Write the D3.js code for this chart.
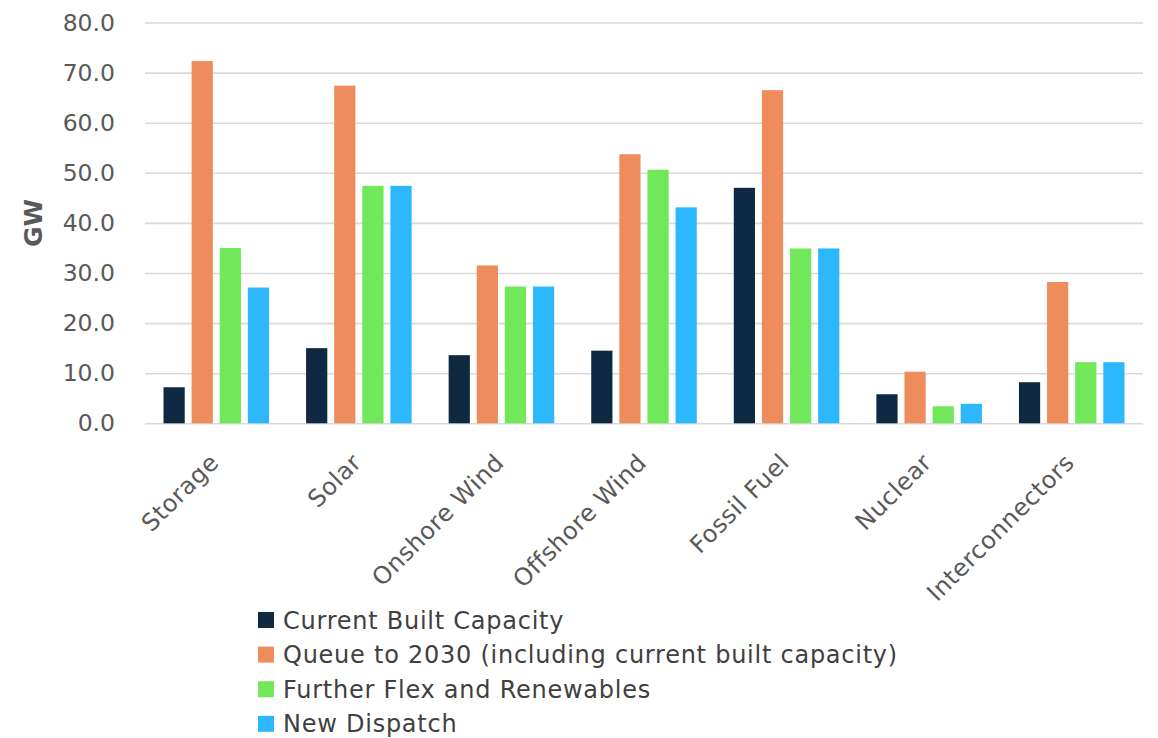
<!doctype html>
<html>
<head>
    <script src="https://d3js.org/d3.v7.min.js"></script>
    <style>
        body { margin: 0; background: #fff; }
        text { font-family: "DejaVu Sans", sans-serif; }
    </style>
</head>
<body>
    <script>
        let categories = ["Storage", "Solar", "Onshore Wind", "Offshore Wind", "Fossil Fuel", "Nuclear", "Interconnectors"];
        let seriesNames = ["Current Built Capacity", "Queue to 2030 (including current built capacity)", "Further Flex and Renewables", "New Dispatch"];
        let currentBuilt = [7.2, 15.0, 13.6, 14.5, 47.0, 5.8, 8.2];
        let queue2030 = [72.3, 67.4, 31.5, 53.7, 66.5, 10.3, 28.2];
        let furtherFlex = [35.0, 47.4, 27.3, 50.6, 34.9, 3.4, 12.2];
        let newDispatch = [27.1, 47.4, 27.3, 43.1, 34.9, 3.9, 12.2];
        let yTicks = [0, 10, 20, 30, 40, 50, 60, 70, 80];
        let colors = ["#0f2942", "#ee8c5c", "#70e85a", "#2db8fe"];

        let allSeries = [currentBuilt, queue2030, furtherFlex, newDispatch];

        let width = 1158, height = 738;
        let plotLeft = 145, plotRight = 1143, plotTop = 22.5, plotBottom = 423.3;

        let svg = d3.select("body").append("svg")
                    .attr("width", width).attr("height", height);

        let x = d3.scaleBand().domain(categories).range([plotLeft, plotRight]).padding(0);
        let x1 = d3.scaleBand().domain(d3.range(4)).range([18.5, x.bandwidth() - 18.5]).paddingInner(0.245);
        let y = d3.scaleLinear().domain([0, 80]).range([plotBottom, plotTop]);

        // gridlines + y labels
        let yAxis = svg.append("g").attr("transform", "translate(" + plotLeft + ",0)")
            .call(d3.axisLeft(y).tickValues(yTicks).tickFormat(d3.format(".1f")).tickSize(-(plotRight - plotLeft)).tickPadding(30));
        yAxis.select(".domain").remove();
        yAxis.selectAll(".tick line").attr("stroke", "#d9d9d9").attr("stroke-width", 1.6);
        yAxis.selectAll(".tick text").attr("fill", "#595959").style("font-size", "23.5px");

        svg.append("text")
            .attr("transform", "translate(42," + ((plotTop + plotBottom) / 2) + ") rotate(-90)")
            .attr("text-anchor", "middle")
            .attr("fill", "#595959")
            .style("font-size", "25px").style("font-weight", "bold")
            .text("GW");

        // bars
        let groups = svg.selectAll("g.grp").data(categories).enter().append("g")
            .attr("class", "grp")
            .attr("transform", function(d) { return "translate(" + x(d) + ",0)"; });
        groups.selectAll("rect").data(function(d, i) { return allSeries.map(function(s, k) { return {k: k, v: s[i]}; }); })
            .enter().append("rect")
            .attr("x", function(d) { return x1(d.k); })
            .attr("width", x1.bandwidth())
            .attr("y", function(d) { return y(d.v); })
            .attr("height", function(d) { return y(0) - y(d.v); })
            .attr("fill", function(d) { return colors[d.k]; });

        // category labels
        svg.selectAll("text.cat").data(categories).enter().append("text")
            .attr("class", "cat")
            .attr("transform", function(d) { return "translate(" + (x(d) + x.bandwidth() / 2 + 4) + ",464) rotate(-45)"; })
            .attr("text-anchor", "end")
            .attr("fill", "#595959")
            .style("font-size", "24px")
            .style("letter-spacing", "0.5px")
            .text(function(d) { return d; });

        // legend
        let legend = svg.selectAll("g.leg").data(seriesNames).enter().append("g")
            .attr("class", "leg")
            .attr("transform", function(d, i) { return "translate(258," + (620 + i * 34.6) + ")"; });
        legend.append("rect").attr("x", 0).attr("y", -8).attr("width", 16).attr("height", 16)
            .attr("fill", function(d, i) { return colors[i]; });
        legend.append("text").attr("x", 25).attr("dy", "0.36em")
            .attr("fill", "#404040")
            .style("font-size", "24px")
            .style("letter-spacing", "0.75px")
            .text(function(d) { return d; });
    </script>
</body>
</html>
